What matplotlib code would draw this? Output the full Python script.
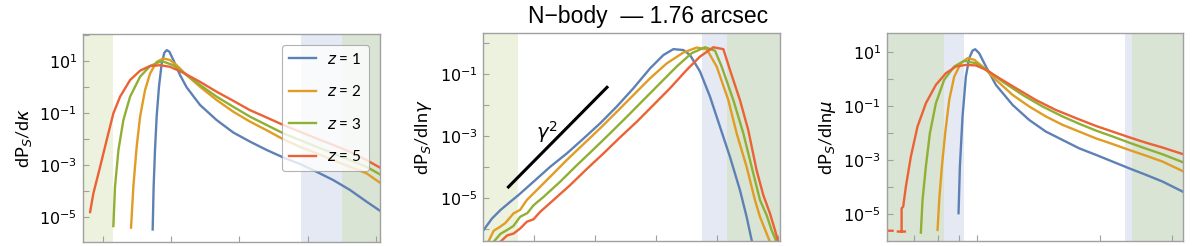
import numpy as np
import matplotlib
matplotlib.use("Agg")
import matplotlib.pyplot as plt
from matplotlib.ticker import FixedLocator, NullFormatter, NullLocator

plt.rcParams['font.family'] = ['Lato', 'DejaVu Sans']
plt.rcParams['mathtext.fontset'] = 'dejavusans'

# Mathematica default colours
colors = ['#5E81B5', '#E19C24', '#8FB032', '#EB6235']
labels = ['$z$ = 1', '$z$ = 2', '$z$ = 3', '$z$ = 5']
c_lgreen = '#EDF2DF'
c_lblue = '#E4E9F3'
c_dgreen = '#DAE4D4'

# ---------------- panel 1 : dP/dkappa (kappa linear, log10 of y) ----------------
k1 = [-0.0134, -0.0127, -0.0117, -0.0105, -0.0088, -0.0068, -0.0049, -0.0032, -0.0012, 0.0017,
      0.0066, 0.0114, 0.0212, 0.0333, 0.0455, 0.0577, 0.0698, 0.0820, 0.0942, 0.1063,
      0.1185, 0.1307, 0.1428, 0.1526]
p1 = [-5.49, -3.84, -2.43, -1.15, 0.00, 0.90, 1.31, 1.41, 1.35, 1.03,
      0.45, -0.02, -0.70, -1.28, -1.76, -2.11, -2.43, -2.72, -2.97, -3.27,
      -3.59, -3.97, -4.42, -4.77]
k2 = [-0.0292, -0.0275, -0.0251, -0.0226, -0.0190, -0.0153, -0.0105, -0.0056, -0.0007, 0.0041,
      0.0114, 0.0212, 0.0333, 0.0455, 0.0577, 0.0698, 0.0820, 0.0942, 0.1063, 0.1185,
      0.1307, 0.1428, 0.1526]
p2 = [-5.42, -3.84, -2.31, -1.15, -0.13, 0.51, 0.96, 1.09, 1.03, 0.83,
      0.45, 0.00, -0.51, -0.96, -1.34, -1.67, -2.02, -2.31, -2.56, -2.82,
      -3.08, -3.33, -3.69]
k3 = [-0.0421, -0.0409, -0.0384, -0.0348, -0.0299, -0.0226, -0.0153, -0.0068, 0.0017, 0.0114,
      0.0212, 0.0333, 0.0455, 0.0577, 0.0698, 0.0820, 0.0942, 0.1063, 0.1185, 0.1307,
      0.1428, 0.1526]
p3 = [-5.36, -3.84, -2.43, -1.28, -0.38, 0.39, 0.80, 0.99, 0.83, 0.45,
      0.07, -0.38, -0.77, -1.15, -1.47, -1.79, -2.05, -2.31, -2.56, -2.82,
      -3.08, -3.37]
k5 = [-0.0591, -0.0567, -0.0518, -0.0470, -0.0421, -0.0372, -0.0299, -0.0226, -0.0153, -0.0080,
      -0.0007, 0.0090, 0.0212, 0.0333, 0.0455, 0.0577, 0.0698, 0.0820, 0.0942, 0.1063,
      0.1185, 0.1307, 0.1428, 0.1526]
p5 = [-4.82, -4.10, -3.08, -2.05, -1.02, -0.38, 0.26, 0.62, 0.80, 0.83,
      0.77, 0.54, 0.19, -0.19, -0.54, -0.90, -1.18, -1.47, -1.73, -1.99,
      -2.24, -2.50, -2.82, -3.11]

# ---------------- panel 2 : dP/dln gamma (log10 gamma, log10 y) ----------------
g1 = [-4.816, -4.680, -4.544, -4.381, -4.245, -4.000, -3.728, -3.456, -3.184, -2.912,
      -2.641, -2.369, -2.097, -1.879, -1.716, -1.553, -1.444, -1.281, -1.118, -0.955,
      -0.792, -0.629, -0.520, -0.438]
q1 = [-6.03, -5.66, -5.39, -5.12, -4.90, -4.47, -3.99, -3.56, -3.08, -2.59,
      -2.05, -1.46, -0.82, -0.39, -0.20, -0.23, -0.39, -0.92, -1.73, -2.70,
      -3.67, -4.74, -5.60, -6.35]
g2 = [-4.740, -4.650, -4.544, -4.460, -4.326, -4.220, -4.109, -3.946, -3.728, -3.456,
      -3.184, -2.912, -2.641, -2.369, -2.097, -1.825, -1.553, -1.335, -1.172, -1.009,
      -0.819, -0.683, -0.520, -0.384, -0.302, -0.193, -0.139]
q2 = [-6.41, -6.05, -5.92, -5.80, -5.49, -5.38, -5.06, -4.74, -4.31, -3.77,
      -3.26, -2.75, -2.22, -1.68, -1.14, -0.66, -0.31, -0.15, -0.20, -0.76,
      -1.84, -2.91, -3.99, -5.06, -5.60, -6.14, -6.41]
g3 = [-4.653, -4.540, -4.435, -4.330, -4.218, -4.100, -4.000, -3.837, -3.565, -3.293,
      -3.021, -2.749, -2.477, -2.206, -1.934, -1.662, -1.417, -1.200, -1.036, -0.928,
      -0.737, -0.574, -0.438, -0.302, -0.193, -0.112, -0.030]
q3 = [-6.41, -6.15, -6.03, -5.90, -5.60, -5.48, -5.23, -4.96, -4.47, -3.94,
      -3.43, -2.91, -2.38, -1.84, -1.30, -0.76, -0.33, -0.14, -0.25, -0.76,
      -1.84, -2.91, -3.99, -5.06, -5.55, -6.03, -6.41]
g5 = [-4.544, -4.430, -4.326, -4.220, -4.109, -4.000, -3.891, -3.674, -3.402, -3.130,
      -2.858, -2.586, -2.314, -2.042, -1.771, -1.499, -1.281, -1.064, -0.900, -0.792,
      -0.629, -0.493, -0.357, -0.248, -0.139, -0.057, -0.003]
q5 = [-6.41, -6.20, -6.14, -5.98, -5.76, -5.68, -5.44, -5.06, -4.58, -4.06,
      -3.56, -3.04, -2.54, -2.00, -1.46, -0.87, -0.44, -0.14, -0.20, -0.87,
      -1.84, -2.81, -4.10, -4.90, -5.49, -6.03, -6.41]
# gamma^2 guide line and its label
gam_ref = [-4.41, -2.80]
y_ref = [-4.64, -1.43]
gam_lab = (-3.79, -2.87)

# ---------------- panel 3 : dP/dln mu (log10 mu, log10 y) ----------------
m1 = [-0.0458, -0.0425, -0.0360, -0.0278, -0.0196, -0.0114, -0.0049, 0.0049, 0.0213, 0.0458,
      0.0867, 0.1276, 0.1685, 0.2094, 0.2502, 0.2911, 0.3320, 0.3729, 0.4138, 0.4547,
      0.5038]
r1 = [-4.96, -3.23, -1.38, 0.10, 0.78, 1.06, 1.11, 0.96, 0.47, -0.21,
      -0.95, -1.51, -1.94, -2.25, -2.56, -2.80, -3.05, -3.30, -3.54, -3.79,
      -4.16]
m2 = [-0.0973, -0.0932, -0.0867, -0.0785, -0.0687, -0.0564, -0.0401, -0.0237, -0.0074, 0.0131,
      0.0458, 0.0867, 0.1276, 0.1685, 0.2094, 0.2502, 0.2911, 0.3320, 0.3729, 0.4138,
      0.4547, 0.5038]
r2 = [-5.58, -4.47, -3.23, -2.00, -0.77, 0.10, 0.59, 0.78, 0.72, 0.47,
      -0.02, -0.58, -1.01, -1.38, -1.69, -1.94, -2.19, -2.40, -2.62, -2.83,
      -3.05, -3.40]
m3 = [-0.1382, -0.1341, -0.1259, -0.1161, -0.1014, -0.0810, -0.0564, -0.0319, -0.0033, 0.0294,
      0.0622, 0.1112, 0.1603, 0.2094, 0.2502, 0.2911, 0.3320, 0.3729, 0.4138, 0.4547,
      0.5038]
r3 = [-5.68, -4.47, -3.23, -2.00, -0.89, -0.02, 0.47, 0.68, 0.59, 0.28,
      -0.09, -0.58, -1.01, -1.38, -1.65, -1.90, -2.12, -2.35, -2.57, -2.78,
      -3.07]
m5 = [-0.222, -0.2076, np.nan, -0.1946, -0.1774, np.nan,
      -0.1855, -0.1855, -0.1816, -0.1750, -0.1627, -0.1464, -0.1259, -0.1014, -0.0769, -0.0523,
      -0.0278, -0.0033, 0.0213, 0.0540, 0.0949, 0.1439, 0.1930, 0.2421, 0.2911, 0.3320,
      0.3729, 0.4138, 0.4547, 0.5038]
r5 = [-5.61, -5.61, np.nan, -5.64, -5.64, np.nan,
      -5.64, -4.78, -4.72, -3.98, -2.86, -1.75, -0.89, -0.21, 0.22, 0.47,
      0.53, 0.51, 0.35, 0.04, -0.33, -0.77, -1.14, -1.44, -1.73, -1.94,
      -2.15, -2.35, -2.53, -2.77]

fig = plt.figure(figsize=(11.96, 2.46), dpi=100)
W, H = 1196, 246


def make_ax(l, t, r, b):
    return fig.add_axes([l / W, 1 - b / H, (r - l) / W, (b - t) / H])


def style(ax, ydec, ylabel):
    for s in ax.spines.values():
        s.set_color('#A0A0A0')
        s.set_linewidth(1.0)
    ax.set_yscale('log')
    ax.yaxis.set_major_locator(FixedLocator([10.0 ** d for d in ydec]))
    ax.yaxis.set_major_formatter(matplotlib.ticker.FixedFormatter(
        [r'$10^{%d}$' % d for d in ydec]))
    ax.yaxis.set_minor_locator(FixedLocator([10.0 ** (d + 1) for d in ydec]))
    ax.yaxis.set_minor_formatter(NullFormatter())
    ax.tick_params(axis='both', which='both', direction='in', color='#A0A0A0',
                   length=4, width=0.8, labelsize=11.5, pad=4, top=False, right=False)
    ax.tick_params(axis='x', labelbottom=False)
    ax.set_ylabel(ylabel, fontsize=13, labelpad=4)


# ---- panel 1
ax1 = make_ax(82.7, 34.3, 380, 241.7)
ax1.set_xlim(-0.0645, 0.1526)
ax1.set_ylim(10 ** -5.96, 10 ** 2.02)
ax1.axvspan(-0.0645, -0.0426, color=c_lgreen, lw=0)
ax1.axvspan(0.0949, 0.1246, color=c_lblue, lw=0)
ax1.axvspan(0.1246, 0.1526, color=c_dgreen, lw=0)
for kx, py, c, lab in zip([k1, k2, k3, k5], [p1, p2, p3, p5], colors, labels):
    ax1.plot(kx, 10 ** np.array(py), color=c, lw=1.7, label=lab)
style(ax1, [1, -1, -3, -5], r'dP$_S$/d$\kappa$')
ax1.set_xticks([-0.05, 0, 0.05, 0.1, 0.15])
leg = ax1.legend(loc='upper right', bbox_to_anchor=(0.962, 0.95), borderaxespad=0,
                 fontsize=11, handlelength=1.8, labelspacing=1.15, handletextpad=0.7,
                 borderpad=0.45, framealpha=0.8, edgecolor='#A0A0A0', fancybox=True)
leg.get_frame().set_linewidth(0.8)

# ---- panel 2
ax2 = make_ax(483.3, 33.3, 780.3, 241)
ax2.set_xscale('log')
ax2.set_xlim(10 ** -4.82, 10 ** 0.03)
ax2.set_ylim(10 ** -6.38, 10 ** 0.31)
ax2.axvspan(10 ** -4.82, 10 ** -4.26, color=c_lgreen, lw=0)
ax2.axvspan(10 ** -1.253, 10 ** -0.835, color=c_lblue, lw=0)
ax2.axvspan(10 ** -0.835, 10 ** 0.03, color=c_dgreen, lw=0)
for gx, qy, c in zip([g1, g2, g3, g5], [q1, q2, q3, q5], colors):
    ax2.plot(10 ** np.array(gx), 10 ** np.array(qy), color=c, lw=1.7)
ax2.plot(10 ** np.array(gam_ref), 10 ** np.array(y_ref), color='black', lw=2.2)
ax2.text(10 ** gam_lab[0], 10 ** gam_lab[1], r'$\gamma^2$', fontsize=14,
         ha='center', va='center')
style(ax2, [-1, -3, -5], r'dP$_S$/dln$\gamma$')
ax2.yaxis.set_minor_locator(FixedLocator([1.0, 1e-2, 1e-4, 1e-6]))
ax2.xaxis.set_major_locator(FixedLocator([1e-4, 1e-3, 1e-2, 1e-1, 1.0]))
ax2.xaxis.set_minor_locator(NullLocator())

# ---- panel 3
ax3 = make_ax(886.7, 33.3, 1182.7, 241)
ax3.set_xscale('log')
ax3.set_xlim(10 ** -0.222, 10 ** 0.504)
ax3.set_ylim(10 ** -5.99, 10 ** 1.70)
ax3.axvspan(10 ** -0.222, 10 ** -0.0824, color=c_dgreen, lw=0)
ax3.axvspan(10 ** -0.0824, 10 ** -0.0334, color=c_lblue, lw=0)
ax3.axvspan(10 ** 0.362, 10 ** 0.380, color=c_lblue, lw=0)
ax3.axvspan(10 ** 0.380, 10 ** 0.504, color=c_dgreen, lw=0)
for mx, ry, c in zip([m1, m2, m3, m5], [r1, r2, r3, r5], colors):
    ax3.plot(10 ** np.array(mx), 10 ** np.array(ry), color=c, lw=1.7)
style(ax3, [1, -1, -3, -5], r'dP$_S$/dln$\mu$')
ax3.xaxis.set_major_locator(FixedLocator([0.7, 0.8, 0.9, 1.0, 2.0, 3.0]))
ax3.xaxis.set_minor_locator(NullLocator())

fig.text(648 / W, 1 - 16 / H, 'N\u2212body  \u2014 1.76 arcsec', fontsize=16.5,
         ha='center', va='center', family=['Liberation Sans', 'DejaVu Sans'])

fig.savefig('out.png', dpi=100)
